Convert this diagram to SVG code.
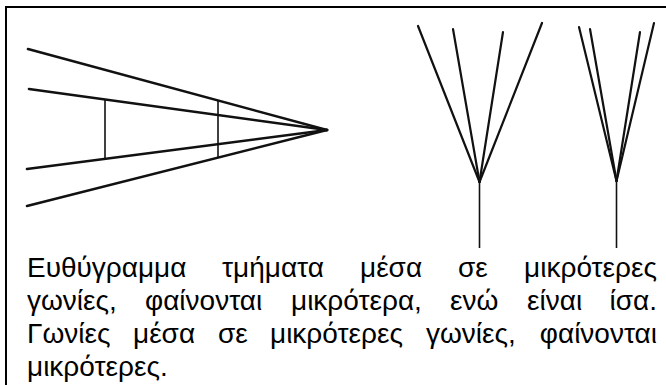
<svg xmlns="http://www.w3.org/2000/svg" width="666" height="385" viewBox="0 0 666 385">
<style>
.thick{stroke:#111;stroke-width:2.6;fill:none;stroke-linecap:round}
.thin{stroke:#111;stroke-width:1.6;fill:none}
.fan{stroke:#111;stroke-width:2.2;fill:none;stroke-linecap:round}
.txt{font-family:"Liberation Sans",Arial,sans-serif;font-size:28px;fill:#000}
</style>
<rect x="0" y="0" width="666" height="385" fill="#fff"/>
<rect x="6" y="7" width="720" height="420" fill="none" stroke="#000" stroke-width="2"/>
<g id="converging-lines">
<line class="thick" x1="28" y1="49" x2="327" y2="130"/>
<line class="thick" x1="29" y1="89" x2="327" y2="130"/>
<line class="thick" x1="27" y1="169" x2="327" y2="130"/>
<line class="thick" x1="27" y1="206" x2="327" y2="130"/>
<line class="thin" x1="105" y1="100" x2="105" y2="158"/>
<line class="thin" x1="218" y1="100" x2="218" y2="158"/>
</g>
<g id="wide-fan">
<line class="fan" x1="418" y1="26" x2="479.5" y2="182"/>
<line class="fan" x1="453" y1="29" x2="479.5" y2="182"/>
<line class="fan" x1="503" y1="32" x2="479.5" y2="182"/>
<line class="fan" x1="542" y1="23" x2="479.5" y2="182"/>
<line class="thin" x1="479.5" y1="182" x2="479.5" y2="248"/>
</g>
<g id="narrow-fan">
<line class="fan" x1="579" y1="27" x2="616.5" y2="181"/>
<line class="fan" x1="590" y1="29" x2="616.5" y2="181"/>
<line class="fan" x1="640" y1="32" x2="616.5" y2="181"/>
<line class="fan" x1="654" y1="23" x2="616.5" y2="181"/>
<line class="thin" x1="616.5" y1="181" x2="616.5" y2="248"/>
</g>
<g id="caption" class="txt">
<text y="277"><tspan x="27">Ευθύγραμμα</tspan><tspan x="222">τμήματα</tspan><tspan x="360">μέσα</tspan><tspan x="458">σε</tspan></text>
<text x="657" y="277" text-anchor="end">μικρότερες</text>
<text y="310"><tspan x="27">γωνίες,</tspan><tspan x="145">φαίνονται</tspan><tspan x="291">μικρότερα,</tspan><tspan x="450">ενώ</tspan><tspan x="527">είναι</tspan></text>
<text x="657" y="310" text-anchor="end">ίσα.</text>
<text y="343"><tspan x="27">Γωνίες</tspan><tspan x="133">μέσα</tspan><tspan x="218">σε</tspan><tspan x="270">μικρότερες</tspan><tspan x="426">γωνίες,</tspan></text>
<text x="657" y="343" text-anchor="end">φαίνονται</text>
<text x="27" y="376">μικρότερες.</text>
</g>
</svg>
